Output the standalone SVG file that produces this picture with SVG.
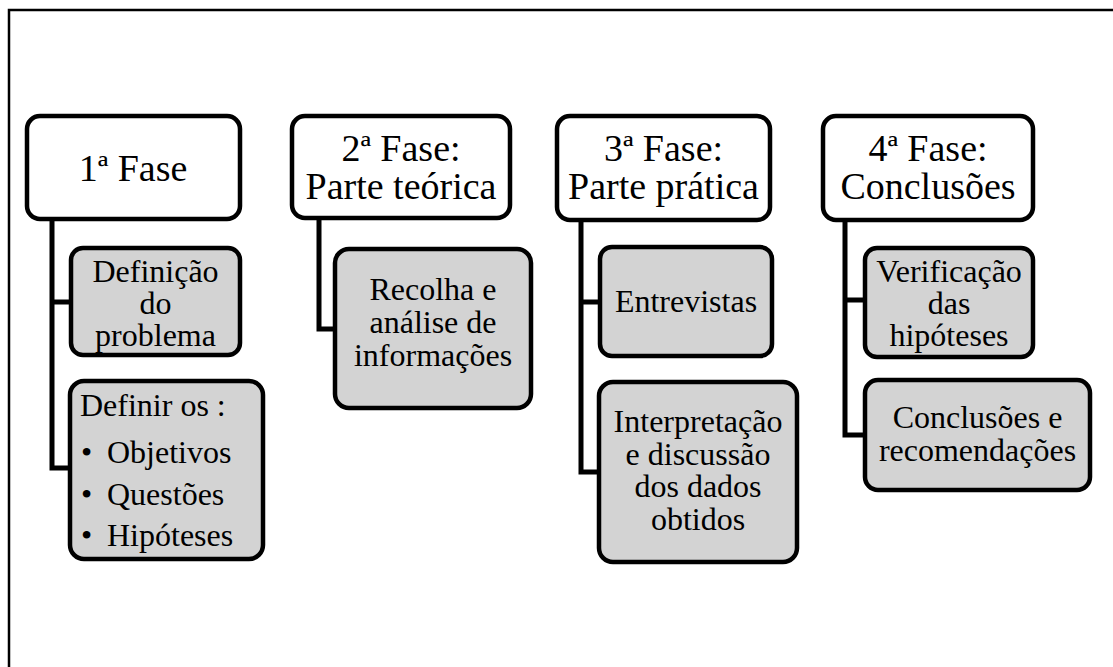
<svg xmlns="http://www.w3.org/2000/svg" width="1113" height="667" viewBox="0 0 1113 667">
<style>
.hdr{fill:#ffffff;stroke:#000;stroke-width:4.5}
.sub{fill:#d3d3d3;stroke:#000;stroke-width:4.5}
.ht{font-family:"Liberation Serif","Times New Roman",serif;font-size:38px;fill:#000;text-anchor:middle}
.st{font-family:"Liberation Serif","Times New Roman",serif;font-size:32px;fill:#000;text-anchor:middle}
.sl{font-family:"Liberation Serif","Times New Roman",serif;font-size:32px;fill:#000}
.con{fill:none;stroke:#000;stroke-width:5}
</style>
<rect width="1113" height="667" fill="#fff"/>
<path d="M9,667 V10 H1113" fill="none" stroke="#000" stroke-width="2.5"/>
<g id="connectors">
<path class="con" d="M52,219 V468 H72 M52,302 H73"/>
<path class="con" d="M319,218 V329 H337"/>
<path class="con" d="M581,220 V472 H601 M581,302 H602"/>
<path class="con" d="M845,220 V435 H867 M845,300 H867"/>
</g>
<g id="fase1">
<rect class="hdr" x="27" y="116" width="213" height="103" rx="13"/>
<text class="ht" x="133" y="181">1ª Fase</text>
</g>
<g id="fase1-definicao">
<rect class="sub" x="71" y="248" width="169" height="107" rx="12"/>
<text class="st" x="155.5" y="282">Definição</text>
<text class="st" x="155.5" y="314">do</text>
<text class="st" x="155.5" y="346">problema</text>
</g>
<g id="fase1-definir">
<rect class="sub" x="70" y="381" width="193" height="178" rx="14"/>
<text class="sl" x="80" y="416">Definir os :</text>
<text class="sl" x="81" y="463">•</text><text class="sl" x="107" y="463">Objetivos</text>
<text class="sl" x="81" y="505">•</text><text class="sl" x="107" y="505">Questões</text>
<text class="sl" x="81" y="546">•</text><text class="sl" x="107" y="546">Hipóteses</text>
</g>
<g id="fase2">
<rect class="hdr" x="292" y="116" width="218" height="102" rx="13"/>
<text class="ht" x="401" y="161">2ª Fase:</text>
<text class="ht" x="401" y="199">Parte teórica</text>
</g>
<g id="fase2-recolha">
<rect class="sub" x="335" y="249" width="196" height="159" rx="14"/>
<text class="st" x="433" y="300">Recolha e</text>
<text class="st" x="433" y="333">análise de</text>
<text class="st" x="433" y="366">informações</text>
</g>
<g id="fase3">
<rect class="hdr" x="557" y="116" width="213" height="104" rx="13"/>
<text class="ht" x="663.5" y="161">3ª Fase:</text>
<text class="ht" x="663.5" y="199">Parte prática</text>
</g>
<g id="fase3-entrevistas">
<rect class="sub" x="600" y="247" width="172" height="109" rx="12"/>
<text class="st" x="686" y="312">Entrevistas</text>
</g>
<g id="fase3-interpretacao">
<rect class="sub" x="599" y="382" width="198" height="180" rx="14"/>
<text class="st" x="698" y="432">Interpretação</text>
<text class="st" x="698" y="465">e discussão</text>
<text class="st" x="698" y="497">dos dados</text>
<text class="st" x="698" y="530">obtidos</text>
</g>
<g id="fase4">
<rect class="hdr" x="823" y="116" width="210" height="104" rx="13"/>
<text class="ht" x="928" y="161">4ª Fase:</text>
<text class="ht" x="928" y="199">Conclusões</text>
</g>
<g id="fase4-verificacao">
<rect class="sub" x="865" y="248" width="168" height="109" rx="12"/>
<text class="st" x="949" y="282">Verificação</text>
<text class="st" x="949" y="314">das</text>
<text class="st" x="949" y="346">hipóteses</text>
</g>
<g id="fase4-conclusoes">
<rect class="sub" x="865" y="380" width="225" height="110" rx="13"/>
<text class="st" x="977.5" y="428">Conclusões e</text>
<text class="st" x="977.5" y="461">recomendações</text>
</g>
</svg>
